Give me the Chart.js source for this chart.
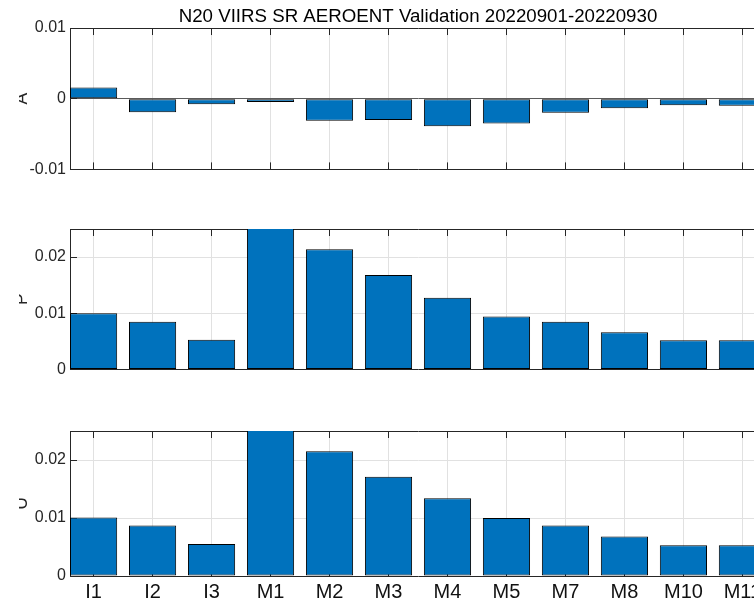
<!DOCTYPE html>
<html>
<head>
<meta charset="utf-8">
<script src="https://cdn.jsdelivr.net/npm/chart.js@4/dist/chart.umd.min.js"></script>
<style>
  html, body { margin:0; padding:0; background:#fff; width:754px; height:599px; overflow:hidden; }
  .box { position:absolute; left:0; width:800px; }
  canvas { display:block; }
</style>
</head>
<body>
<div class="box" style="top:0px;height:190px"><canvas id="c1" width="800" height="190"></canvas></div>
<div class="box" style="top:200px;height:190px"><canvas id="c2" width="800" height="190"></canvas></div>
<div class="box" style="top:400px;height:199px"><canvas id="c3" width="800" height="199"></canvas></div>
<script>
// ---- data ----
const categories = ['I1','I2','I3','M1','M2','M3','M4','M5','M7','M8','M10','M11'];
const accuracy    = [0.0016,-0.0019,-0.0008,-0.00046,-0.0031,-0.0030,-0.0039,-0.0035,-0.0020,-0.00135,-0.00093,-0.0010];
const precision   = [0.0100, 0.0085, 0.0053, 0.0280, 0.0214, 0.0168, 0.01275, 0.0094, 0.0085, 0.0066, 0.0052, 0.0052];
const uncertainty = [0.0101, 0.0087, 0.0055, 0.0280, 0.0215, 0.0171, 0.0134, 0.0100, 0.0087, 0.0068, 0.0053, 0.0053];
const accuracyTicks = [-0.01, 0, 0.01];
const precisionTicks = [0, 0.01, 0.02];
const uncertaintyTicks = [0, 0.01, 0.02];
const yLabels = ['A', 'P', 'U'];
const titleText = 'N20 VIIRS SR AEROENT Validation 20220901-20220930';

const FAMILY = "'Liberation Sans', Arial, Helvetica, sans-serif";
Chart.defaults.font.family = FAMILY;
Chart.defaults.devicePixelRatio = 1;

const AXIS = '#262626';
const GRID = '#e1e1e1';

function fmt(v) { return String(+v.toFixed(4)); }

const yLabelPlugin = {
  id: 'ylab',
  afterDraw(chart, args, opts) {
    const ctx = chart.ctx, a = chart.chartArea;
    ctx.save();
    ctx.beginPath();
    ctx.rect(19, 0, 40, chart.height);
    ctx.clip();
    ctx.translate(a.left - 43, (a.top + a.bottom) / 2);
    ctx.rotate(-Math.PI / 2);
    ctx.font = '17.5px ' + FAMILY;
    ctx.fillStyle = AXIS;
    ctx.textAlign = 'center';
    ctx.textBaseline = 'alphabetic';
    ctx.fillText(opts.text, 0, 0);
    ctx.restore();
  }
};

function makeChart(id, values, yTicks, yMin, yMax, label, cfg) {
  const n = categories.length;
  const catTicks = s => { s.ticks = categories.map((c, i) => ({ value: i + 1 })); };
  return new Chart(document.getElementById(id), {
    type: 'bar',
    data: {
      datasets: [{
        data: values.map((v, i) => ({ x: i + 1, y: v })),
        backgroundColor: '#0072BD',
        borderColor: '#000000',
        borderWidth: 1,
        borderSkipped: false,
        categoryPercentage: 1,
        barPercentage: 0.8,
        xAxisID: 'x', yAxisID: 'y'
      }]
    },
    plugins: [yLabelPlugin],
    options: {
      responsive: false,
      animation: false,
      events: [],
      layout: { padding: { left: 0, right: 34, top: cfg.padTop, bottom: 0 } },
      plugins: {
        legend: { display: false },
        tooltip: { enabled: false },
        ylab: { text: label },
        title: cfg.title ? {
          display: true, text: titleText, color: '#000', fullSize: false,
          font: { size: 18.7, weight: 'normal', family: FAMILY, lineHeight: 1.2 },
          padding: { top: 5.6, bottom: 0 }
        } : { display: false }
      },
      scales: {
        x: {
          type: 'linear', position: 'bottom', min: 0.6, max: n + 0.4, offset: false,
          afterBuildTicks: catTicks,
          afterFit: s => { s.height = cfg.xh; },
          ticks: {
            display: cfg.xLabels, autoSkip: false, maxRotation: 0,
            callback: (v, i) => categories[i],
            font: { size: 20, family: FAMILY }, color: '#111', padding: 11
          },
          grid: { offset: false, color: GRID, tickColor: AXIS, tickLength: -7, lineWidth: 1 },
          border: { color: AXIS, width: 1 }
        },
        x2: {
          type: 'linear', axis: 'x', position: 'top', min: 0.6, max: n + 0.4, offset: false,
          afterBuildTicks: catTicks,
          afterFit: s => { s.height = 0; },
          ticks: { display: false },
          grid: { offset: false, drawOnChartArea: false, tickColor: AXIS, tickLength: -7 },
          border: { color: AXIS, width: 1 }
        },
        y: {
          type: 'linear', position: 'left', min: yMin, max: yMax,
          afterBuildTicks: s => { s.ticks = yTicks.map(v => ({ value: v })); },
          afterFit: s => { s.width = 70; },
          ticks: {
            callback: v => fmt(v),
            font: { size: 16, family: FAMILY }, color: AXIS, padding: 11
          },
          grid: {
            color: c => (c.tick && c.tick.value === 0 && yMin < 0) ? '#5a5a5a'
                       : (c.tick && (c.tick.value === yMin || c.tick.value === yMax)) ? 'rgba(0,0,0,0)' : GRID,
            tickColor: AXIS, tickLength: -7, lineWidth: 1
          },
          border: { color: AXIS, width: 1 }
        }
      }
    }
  });
}

makeChart('c1', accuracy, accuracyTicks, -0.01, 0.01, yLabels[0], { padTop: 0, xh: 18, xLabels: false, title: true });
makeChart('c2', precision, precisionTicks, 0, 0.025, yLabels[1], { padTop: 29, xh: 16, xLabels: false, title: false });
makeChart('c3', uncertainty, uncertaintyTicks, 0, 0.025, yLabels[2], { padTop: 31, xh: 23, xLabels: true, title: false });
</script>
</body>
</html>
